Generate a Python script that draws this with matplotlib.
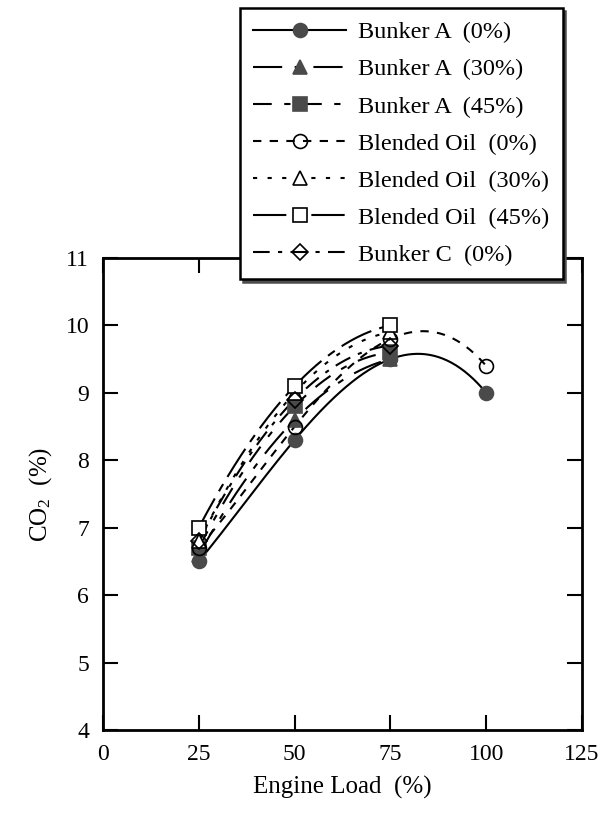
import numpy as np
import matplotlib
matplotlib.use("Agg")
import matplotlib.pyplot as plt
from matplotlib import rcParams

rcParams['font.family'] = 'serif'
rcParams['font.serif'] = ['Liberation Serif', 'DejaVu Serif']
rcParams['mathtext.fontset'] = 'custom'
rcParams['mathtext.rm'] = 'Liberation Serif'
rcParams['mathtext.it'] = 'Liberation Serif:italic'
rcParams['font.size'] = 18

# data
loads = [25, 50, 75, 100]
bunker_a_0 = [6.5, 8.3, 9.5, 9.0]
bunker_a_30 = [6.6, 8.6, 9.5]
bunker_a_45 = [6.7, 8.8, 9.6]
blended_0 = [6.7, 8.5, 9.8, 9.4]
blended_30 = [6.8, 9.0, 9.9]
blended_45 = [7.0, 9.1, 10.0]
bunker_c_0 = [6.8, 8.9, 9.7]

x_ticks = [0, 25, 50, 75, 100, 125]
y_ticks = [4, 5, 6, 7, 8, 9, 10, 11]

dark = '#4a4a4a'
series = [
    ("Bunker A  (0%)", bunker_a_0, 'o', dark, 'solid'),
    ("Bunker A  (30%)", bunker_a_30, '^', dark, (0, (14, 6, 3, 6))),
    ("Bunker A  (45%)", bunker_a_45, 's', dark, (0, (9, 6, 3, 6))),
    ("Blended Oil  (0%)", blended_0, 'o', 'none', (0, (4, 4))),
    ("Blended Oil  (30%)", blended_30, '^', 'white', (0, (2, 5))),
    ("Blended Oil  (45%)", blended_45, 's', 'white', (0, (16, 4, 4, 4))),
    ("Bunker C  (0%)", bunker_c_0, 'D', 'none', (0, (8, 4, 2, 4))),
]

fig = plt.figure(figsize=(6.14, 8.16), dpi=100)
ax = fig.add_axes([103 / 614, 1 - 730 / 816, (582 - 103) / 614, (730 - 258) / 816])

handles = []
for label, vals, marker, face, ls in series:
    xs = np.array(loads[:len(vals)], dtype=float)
    # smooth fit line through the points, as in the original
    coef = np.polyfit(xs, vals, len(vals) - 1)
    xx = np.linspace(xs[0], xs[-1], 200)
    ax.plot(xx, np.polyval(coef, xx), color='black', lw=1.5, linestyle=ls)
    ms = 8 if marker == 'D' else 10
    edge = dark if face == dark else 'black'
    ax.plot(xs, vals, linestyle='none', marker=marker, markersize=ms,
            markerfacecolor=face, markeredgecolor=edge,
            markeredgewidth=1.2, clip_on=False, zorder=3)
    h, = ax.plot([], [], color='black', lw=1.5, linestyle=ls, marker=marker,
                 markersize=ms, markerfacecolor=face, markeredgecolor=edge,
                 markeredgewidth=1.2)
    handles.append((h, label))

ax.set_xlim(0, 125)
ax.set_ylim(4, 11)
ax.set_xticks(x_ticks)
ax.set_yticks(y_ticks)
ax.tick_params(direction='in', length=11, width=1.5, top=True, right=True,
               labelsize=17, pad=10)
for s in ax.spines.values():
    s.set_linewidth(2)
ax.set_xlabel("Engine Load  (%)", fontsize=18, labelpad=8)
ax.set_ylabel("CO$_2$  (%)", fontsize=18, labelpad=8)

leg = ax.legend([h for h, _ in handles], [t for _, t in handles],
                loc='upper left', bbox_to_anchor=(240 / 614, 1 - 8 / 816),
                bbox_transform=fig.transFigure, borderaxespad=0,
                fontsize=17.5, handlelength=3.8,
                handletextpad=0.5, labelspacing=0.62, borderpad=0.55,
                fancybox=False, framealpha=1, edgecolor='black',
                shadow={'color': '0.3', 'alpha': 1})
leg.get_frame().set_linewidth(1.8)
leg.set_zorder(10)

fig.savefig("out.png", dpi=100)
